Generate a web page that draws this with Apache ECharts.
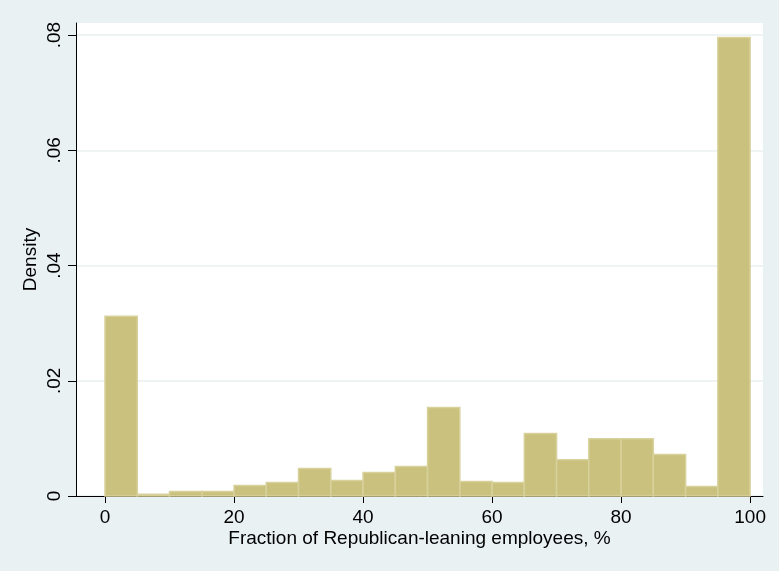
<!DOCTYPE html>
<html>
<head>
<meta charset="utf-8">
<script src="https://cdn.jsdelivr.net/npm/echarts@6/dist/echarts.min.js"></script>
<style>
  html, body { margin: 0; padding: 0; background: #eaf1f3; }
  #chart { width: 779px; height: 571px; }
</style>
</head>
<body>
<div id="chart"></div>
<script>
// Histogram bins: lower edge of each 5-point bin and its density
const binStarts = [0, 5, 10, 15, 20, 25, 30, 35, 40, 45, 50, 55, 60, 65, 70, 75, 80, 85, 90, 95];
const binWidth = 5;
const densities = [0.0312, 0.0003, 0.0008, 0.0008, 0.00184, 0.00236, 0.00479, 0.0027, 0.0041, 0.00514,
                   0.01538, 0.00253, 0.00236, 0.01087, 0.0063, 0.00995, 0.00995, 0.00722, 0.00167, 0.0796];

// Axis ticks
const xTicks = [0, 20, 40, 60, 80, 100];
const yTicks = [0, 0.02, 0.04, 0.06, 0.08];

const binData = binStarts.map((s, i) => [s, s + binWidth, densities[i]]);

const font = '"Liberation Sans", Arial, Helvetica, sans-serif';

const chart = echarts.init(document.getElementById('chart'), null, { renderer: 'canvas' });

chart.setOption({
  backgroundColor: '#eaf1f3',
  animation: false,
  grid: {
    left: 76, right: 16, top: 23, bottom: 75,
    show: true, backgroundColor: '#ffffff', borderWidth: 0
  },
  xAxis: {
    type: 'value',
    min: -4.5,
    max: 102,
    name: 'Fraction of Republican-leaning employees, %',
    nameLocation: 'middle',
    nameGap: 33,
    nameMoveOverlap: false,
    nameTextStyle: { fontFamily: font, fontSize: 19, color: '#000' },
    axisLine: { show: true, onZero: false, lineStyle: { color: '#000', width: 1 } },
    axisTick: { show: true, customValues: xTicks, length: 7, lineStyle: { color: '#000' } },
    axisLabel: {
      customValues: xTicks, margin: 12,
      fontFamily: font, fontSize: 19, color: '#000'
    },
    splitLine: { show: false }
  },
  yAxis: {
    type: 'value',
    min: 0,
    max: 0.0821,
    interval: 0.02,
    name: 'Density',
    nameLocation: 'middle',
    nameGap: 36,
    nameMoveOverlap: false,
    nameTextStyle: { fontFamily: font, fontSize: 19, color: '#000' },
    axisLine: { show: true, onZero: false, lineStyle: { color: '#000', width: 1 } },
    axisTick: { show: true, customValues: yTicks, length: 8, lineStyle: { color: '#000' } },
    axisLabel: {
      customValues: yTicks, rotate: 90, margin: 12,
      fontFamily: font, fontSize: 19, color: '#000',
      formatter: v => v === 0 ? '0' : v.toFixed(2).replace(/^0/, '')
    },
    splitLine: { show: true, lineStyle: { color: '#e8eff1', width: 1.5 } }
  },
  series: [{
    type: 'custom',
    data: binData,
    encode: { x: [0, 1], y: 2 },
    renderItem: (params, api) => {
      const p0 = api.coord([api.value(0), api.value(2)]);
      const p1 = api.coord([api.value(1), 0]);
      return {
        type: 'rect',
        shape: { x: p0[0], y: p0[1], width: p1[0] - p0[0], height: p1[1] - p0[1] },
        style: { fill: '#c9c17d', stroke: '#d8d19c', lineWidth: 1.5 }
      };
    }
  }]
});
</script>
</body>
</html>
